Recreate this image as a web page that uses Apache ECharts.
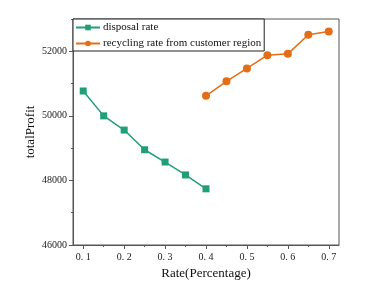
<!DOCTYPE html>
<html><head><meta charset="utf-8">
<script src="https://cdn.jsdelivr.net/npm/echarts@6/dist/echarts.min.js"></script>
<style>html,body{margin:0;padding:0;background:#fff}#c{width:366px;height:295px}</style>
</head><body><div id="c"></div>
<script>
const disposalX = [0.1, 0.15, 0.2, 0.25, 0.3, 0.35, 0.4];
const disposalY = [50770, 50000, 49560, 48950, 48570, 48170, 47740];
const recyclingX = [0.4, 0.45, 0.5, 0.55, 0.6, 0.65, 0.7];
const recyclingY = [50620, 51070, 51470, 51880, 51920, 52510, 52610];
const xMajorTicks = [0.1, 0.2, 0.3, 0.4, 0.5, 0.6, 0.7];
const xMinorTicks = [0.15, 0.25, 0.35, 0.45, 0.55, 0.65];
const yMajorTicks = [46000, 48000, 50000, 52000];
const yMinorTicks = [47000, 49000, 51000, 53000];
const seriesNames = ['disposal rate', 'recycling rate from customer region'];

const font = '"Liberation Serif", "Times New Roman", serif';
const axisColor = '#555';
const chart = echarts.init(document.getElementById('c'));
chart.setOption({
  animation: false,
  textStyle: {fontFamily: font},
  grid: {left: 73, right: 27, top: 19, bottom: 50, show: true, borderColor: axisColor, borderWidth: 1, backgroundColor: 'transparent'},
  legend: {
    left: 73, top: 19, orient: 'vertical', itemGap: 5, itemWidth: 24, itemHeight: 7,
    padding: [3, 3, 2, 2],
    borderColor: '#222', borderWidth: 1, backgroundColor: '#fff',
    textStyle: {fontFamily: font, fontSize: 11, color: '#111', padding: [0, 0, 0, -2]},
    data: seriesNames
  },
  xAxis: [{
    type: 'value', min: 0.075, max: 0.725,
    name: 'Rate(Percentage)', nameLocation: 'middle', nameGap: 22,
    nameTextStyle: {fontFamily: font, fontSize: 13, color: '#111'},
    axisLine: {lineStyle: {color: axisColor}},
    axisTick: {show: true, length: 4, customValues: xMajorTicks, lineStyle: {color: axisColor}},
    axisLabel: {customValues: xMajorTicks, fontFamily: font, fontSize: 10, color: '#222', margin: 7,
      formatter: v => v.toFixed(1).replace('.', '. ')},
    splitLine: {show: false}
  }, {
    type: 'value', min: 0.075, max: 0.725, position: 'bottom', gridIndex: 0,
    axisLine: {show: false},
    axisTick: {show: true, length: 2, customValues: xMinorTicks, lineStyle: {color: axisColor}},
    axisLabel: {show: false}, splitLine: {show: false}
  }],
  yAxis: [{
    type: 'value', min: 46000, max: 53000,
    name: 'totalProfit', nameLocation: 'middle', nameGap: 36, nameMoveOverlap: false,
    nameTextStyle: {fontFamily: font, fontSize: 13, color: '#111'},
    axisLine: {show: true, lineStyle: {color: axisColor}},
    axisTick: {show: true, length: 4, customValues: yMajorTicks, lineStyle: {color: axisColor}},
    axisLabel: {customValues: yMajorTicks, fontFamily: font, fontSize: 10, color: '#222', margin: 6,
      formatter: v => String(v)},
    splitLine: {show: false}
  }, {
    type: 'value', min: 46000, max: 53000, position: 'left', gridIndex: 0,
    axisLine: {show: false},
    axisTick: {show: true, length: 2, customValues: yMinorTicks, lineStyle: {color: axisColor}},
    axisLabel: {show: false}, splitLine: {show: false}
  }],
  series: [{
    name: seriesNames[0], type: 'line', xAxisIndex: 0, yAxisIndex: 0,
    data: disposalX.map((x, i) => [x, disposalY[i]]),
    symbol: 'rect', symbolSize: 7,
    itemStyle: {color: '#1f9e77'}, lineStyle: {color: '#1f9e77', width: 1.5}
  }, {
    name: seriesNames[1], type: 'line', xAxisIndex: 0, yAxisIndex: 0,
    data: recyclingX.map((x, i) => [x, recyclingY[i]]),
    symbol: 'circle', symbolSize: 8,
    itemStyle: {color: '#e46d17'}, lineStyle: {color: '#e46d17', width: 1.5}
  }]
});
</script></body></html>
